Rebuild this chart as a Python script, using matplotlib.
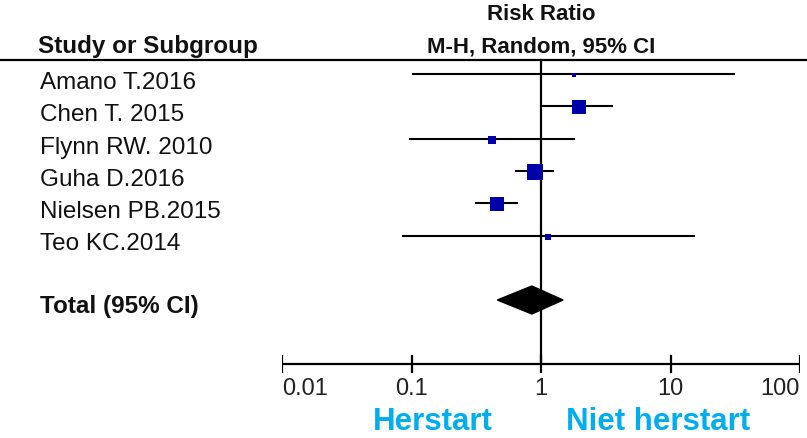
import numpy as np
import matplotlib.pyplot as plt
from matplotlib.patches import Polygon

plt.rcParams['font.family'] = ['Liberation Sans', 'DejaVu Sans']

studies = ["Amano T.2016", "Chen T. 2015", "Flynn RW. 2010",
           "Guha D.2016", "Nielsen PB.2015", "Teo KC.2014"]
rr = [1.80, 1.97, 0.42, 0.90, 0.46, 1.13]
lo = [0.10, 1.00, 0.095, 0.63, 0.31, 0.084]
hi = [31.7, 3.6, 1.83, 1.26, 0.66, 15.5]
weight = [2.6, 23.5, 10.4, 31.9, 27.5, 4.1]

total_rr, total_lo, total_hi = 0.85, 0.46, 1.48
ticks = [0.01, 0.1, 1, 10, 100]
tick_labels = ["0.01", "0.1", "1", "10", "100"]

W, H = 807, 438
fig = plt.figure(figsize=(W / 100, H / 100), dpi=100)
# axes x: log scale from 0.01 to 100, y: pixel rows (top = 0)
ax = fig.add_axes([282 / W, 0, (800 - 282) / W, 1])
ax.set_xscale('log')
ax.set_xlim(0.01, 100)
ax.set_ylim(H, 0)
ax.axis('off')

row0, step = 74, 32.3
ys = [row0 + i * step for i in range(len(studies))]
y_total = 300
y_axis = 364

# header
fig.text(38 / W, 1 - 47 / H, "Study or Subgroup", fontsize=17.5, fontweight='bold',
         va='center', ha='left', color='#111111')
ax.text(1, 15, "Risk Ratio", fontsize=16, fontweight='bold', ha='center',
        va='center', color='#111111')
ax.text(1, 47, "M-H, Random, 95% CI", fontsize=16, fontweight='bold',
        ha='center', va='center', color='#111111')
fig.add_artist(plt.Line2D([0, 1], [1 - 60 / H, 1 - 60 / H], color='black', lw=1.6))

# vertical line of no effect
ax.plot([1, 1], [60, y_axis], color='black', lw=1.6)

for name, y, r, l, h, w in zip(studies, ys, rr, lo, hi, weight):
    fig.text(40 / W, 1 - (y + 9) / H, name, fontsize=17.5, va='center', ha='left',
             color='#111111')
    ax.plot([l, h], [y, y], color='black', lw=1.5, solid_capstyle='butt')
    ax.plot(r, y + 1, marker='s', color='#0000AA', markersize=np.sqrt(w) * 1.95,
            markeredgewidth=0)

fig.text(40 / W, 1 - (y_total + 7) / H, "Total (95% CI)", fontsize=17.5,
         fontweight='bold', va='center', ha='left', color='#111111')
ax.add_patch(Polygon([(total_lo, y_total), (total_rr, y_total - 14),
                      (total_hi, y_total), (total_rr, y_total + 14)],
                     closed=True, color='black'))

# axis
ax.plot([0.01, 100], [y_axis, y_axis], color='black', lw=1.6)
for t, lab in zip(ticks, tick_labels):
    ax.plot([t, t], [y_axis - 8, y_axis + 8], color='black', lw=1.6)
    ha = 'left' if t == ticks[0] else ('right' if t == ticks[-1] else 'center')
    ax.text(t, 389, lab, fontsize=17, ha=ha, va='center', color='#222222')

fig.text(433 / W, 1 - 422 / H, "Herstart", fontsize=22.5, fontweight='bold',
         color='#00AEEF', ha='center', va='center')
fig.text(658 / W, 1 - 422 / H, "Niet herstart", fontsize=22.5, fontweight='bold',
         color='#00AEEF', ha='center', va='center')

fig.savefig("out.png", dpi=100)
